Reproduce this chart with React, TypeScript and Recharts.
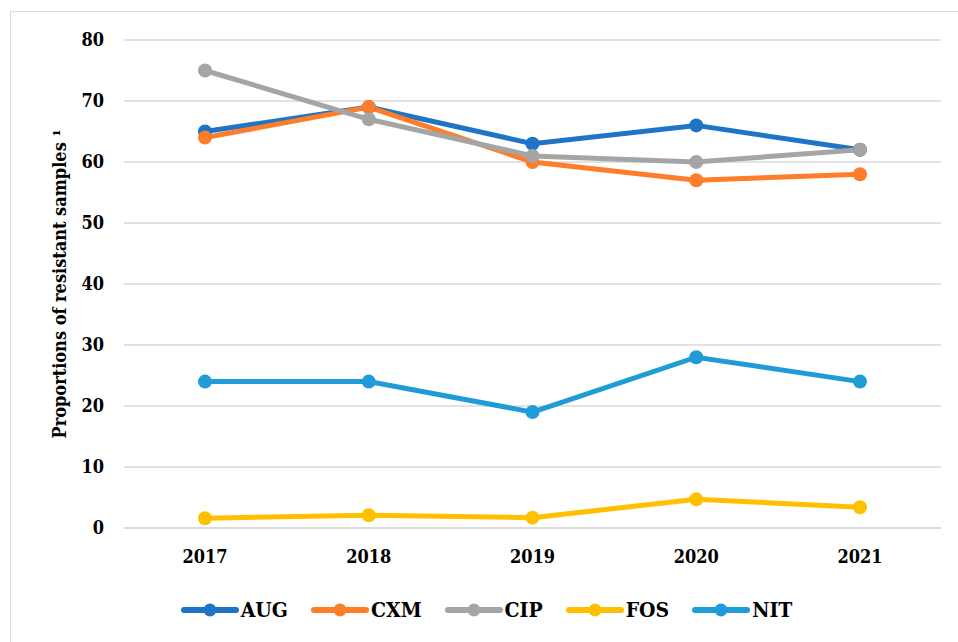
import React from "react"
import { LineChart, Line, XAxis, YAxis, CartesianGrid, Legend } from "recharts"

const years = ["2017", "2018", "2019", "2020", "2021"]
const aug = [65, 69, 63, 66, 62]
const cxm = [64, 69, 60, 57, 58]
const cip = [75, 67, 61, 60, 62]
const fos = [1.6, 2.1, 1.7, 4.7, 3.4]
const nit = [24, 24, 19, 28, 24]
const yTicks = [0, 10, 20, 30, 40, 50, 60, 70, 80]

const series = [
  { key: "AUG", values: aug, color: "#1f74c6" },
  { key: "CXM", values: cxm, color: "#fd7d2b" },
  { key: "CIP", values: cip, color: "#a5a5a5" },
  { key: "FOS", values: fos, color: "#ffc000" },
  { key: "NIT", values: nit, color: "#1f9bd7" },
]

const data = years.map((year, i) => {
  const row: Record<string, string | number> = { year }
  series.forEach((s) => {
    row[s.key] = s.values[i]
  })
  return row
})

const FONT = "'DejaVu Serif Condensed', 'DejaVu Serif', serif"

function LegendContent() {
  return (
    <div style={{ display: "flex", justifyContent: "center", alignItems: "center", paddingLeft: 32, fontFamily: FONT, fontWeight: "bold", fontSize: 21, color: "#000" }}>
      {series.map((s, i) => (
        <div key={s.key} style={{ display: "flex", alignItems: "center", marginRight: i < series.length - 1 ? 23 : 0 }}>
          <svg width={58} height={18} style={{ marginRight: 2 }}>
            <line x1={3} y1={9} x2={55} y2={9} stroke={s.color} strokeWidth={6} strokeLinecap="round" />
            <circle cx={29} cy={9} r={6.5} fill={s.color} />
          </svg>
          <span>{s.key}</span>
        </div>
      ))}
    </div>
  )
}

export default function App() {
  return (
    <div style={{ position: "absolute", left: 0, top: 0, width: 958, height: 642, background: "#fff", overflow: "hidden" }}>
      <div style={{ position: "absolute", left: 10, top: 11, width: 960, height: 640, borderLeft: "1px solid #d9d9d9", borderTop: "1px solid #d9d9d9" }} />
      <LineChart width={958} height={642} data={data} margin={{ top: 40, right: 17, bottom: 11, left: 0 }}>
        <CartesianGrid vertical={false} stroke="#d9d9d9" strokeWidth={1.5} />
        <XAxis
          dataKey="year"
          height={69}
          padding={{ left: 81, right: 81 }}
          axisLine={{ stroke: "#d9d9d9", strokeWidth: 1.5 }}
          tickLine={false}
          tickSize={0}
          tickMargin={22}
          tick={{ fill: "#000", fontFamily: FONT, fontWeight: "bold", fontSize: 18 }}
        />
        <YAxis
          width={124}
          domain={[0, 80]}
          ticks={yTicks}
          axisLine={false}
          tickLine={false}
          tickSize={0}
          tickMargin={20}
          tick={{ fill: "#000", fontFamily: FONT, fontWeight: "bold", fontSize: 18 }}
          label={{
            value: "Proportions of resistant samples ¹",
            angle: -90,
            position: "center",
            dx: -2,
            style: { fill: "#000", fontFamily: FONT, fontWeight: "bold", fontSize: 18, textAnchor: "middle" },
          }}
        />
        <Legend verticalAlign="bottom" height={34} content={<LegendContent />} />
        {series.map((s) => (
          <Line
            key={s.key}
            dataKey={s.key}
            stroke={s.color}
            strokeWidth={5}
            dot={{ r: 7, fill: s.color, stroke: s.color, strokeWidth: 0 }}
            activeDot={false}
            isAnimationActive={false}
          />
        ))}
      </LineChart>
    </div>
  )
}
